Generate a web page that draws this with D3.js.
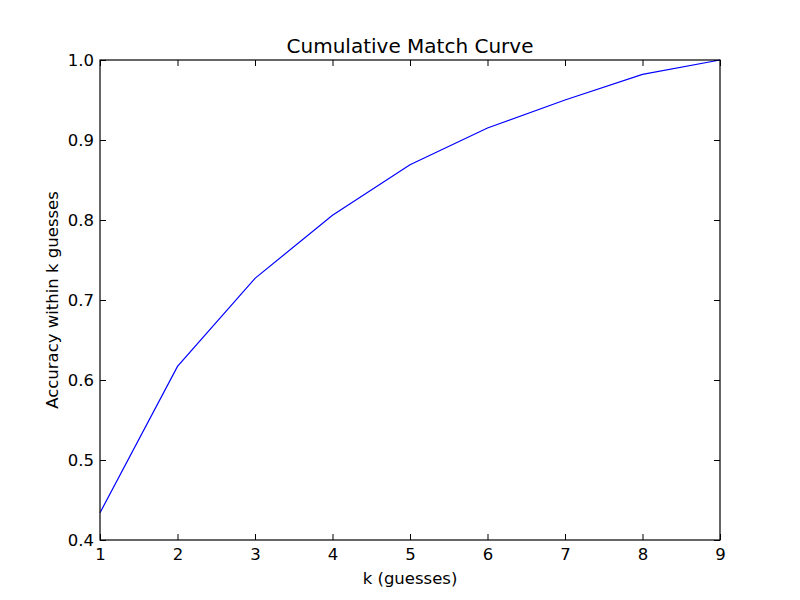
<!DOCTYPE html>
<html>
<head>
<meta charset="utf-8">
<script src="https://d3js.org/d3.v7.min.js"></script>
<style>
  body { margin: 0; background: #fff; }
  text { font-family: "DejaVu Sans", sans-serif; fill: #000; }
</style>
</head>
<body>
<svg id="chart" width="800" height="600"></svg>
<script>
const kValues = [1, 2, 3, 4, 5, 6, 7, 8, 9];
const accuracy = [0.434, 0.617, 0.727, 0.806, 0.869, 0.915, 0.950, 0.982, 1.0];
const xTicks = [1, 2, 3, 4, 5, 6, 7, 8, 9];
const yTicks = [0.4, 0.5, 0.6, 0.7, 0.8, 0.9, 1.0];

const svg = d3.select('#chart');
const margin = {left: 100, right: 80, top: 60, bottom: 60};
const w = 800 - margin.left - margin.right;
const h = 600 - margin.top - margin.bottom;

const x = d3.scaleLinear().domain([1, 9]).range([0, w]);
const y = d3.scaleLinear().domain([0.4, 1.0]).range([h, 0]);

const g = svg.append('g').attr('transform', `translate(${margin.left},${margin.top})`);

// ticks pointing inward, on all four sides (matplotlib classic)
const tickLen = 6;
const fmt = d3.format('.1f');

g.append('g').attr('transform', `translate(0,${h})`)
  .call(d3.axisBottom(x).tickValues(xTicks).tickSizeInner(-tickLen).tickSizeOuter(0).tickPadding(8).tickFormat(d3.format('d')));
g.append('g')
  .call(d3.axisTop(x).tickValues(xTicks).tickSizeInner(-tickLen).tickSizeOuter(0).tickFormat(''));
g.append('g')
  .call(d3.axisLeft(y).tickValues(yTicks).tickSizeInner(-tickLen).tickSizeOuter(0).tickPadding(6).tickFormat(fmt));
g.append('g').attr('transform', `translate(${w},0)`)
  .call(d3.axisRight(y).tickValues(yTicks).tickSizeInner(-tickLen).tickSizeOuter(0).tickFormat(''));

g.selectAll('.domain').remove();
g.selectAll('.tick line').attr('stroke', '#000').attr('stroke-width', 1);
g.selectAll('.tick text').style('font-size', '16.5px').style('font-family', '"DejaVu Sans", sans-serif');

const line = d3.line().x((d, i) => x(kValues[i])).y(d => y(d));
g.append('path')
  .datum(accuracy)
  .attr('d', line)
  .attr('fill', 'none')
  .attr('stroke', '#0000ff')
  .attr('stroke-width', 1.2);

g.append('rect')
  .attr('width', w).attr('height', h)
  .attr('fill', 'none').attr('stroke', '#000').attr('stroke-width', 1.2);

svg.append('text')
  .attr('x', margin.left + w / 2).attr('y', 53)
  .attr('text-anchor', 'middle')
  .style('font-size', '20px')
  .text('Cumulative Match Curve');

svg.append('text')
  .attr('x', margin.left + w / 2).attr('y', 584)
  .attr('text-anchor', 'middle')
  .style('font-size', '16.5px')
  .text('k (guesses)');

svg.append('text')
  .attr('transform', `translate(58,${margin.top + h / 2}) rotate(-90)`)
  .attr('text-anchor', 'middle')
  .style('font-size', '16.5px')
  .text('Accuracy within k guesses');
</script>
</body>
</html>
